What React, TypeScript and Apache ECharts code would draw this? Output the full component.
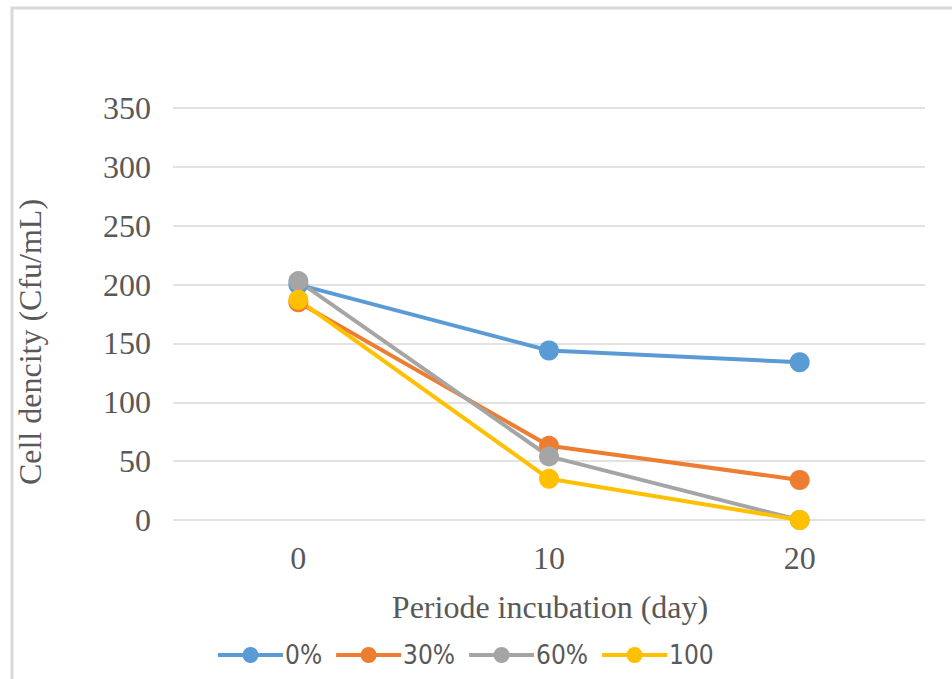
import React, { useEffect, useRef } from "react";
import * as echarts from "echarts";

const categories = ["0", "10", "20"];
const seriesNames = ["0%", "30%", "60%", "100"];
const s0 = [200, 144, 134];
const s30 = [185, 63, 34];
const s60 = [203, 54, 0];
const s100 = [187, 35, 0];
const colors = ["#5B9BD5", "#ED7D31", "#A5A5A5", "#FFC000"];
const yTicks = { min: 0, max: 350, interval: 50 };

const FONT = "'Liberation Serif', 'Times New Roman', serif";
const LEGEND_FONT = "'DejaVu Sans Condensed', 'Liberation Sans Narrow', sans-serif";
const TXT = "#595959";

export default function App() {
  const ref = useRef<HTMLDivElement>(null);
  useEffect(() => {
    document.body.style.margin = "0";
    const chart = echarts.init(ref.current!, null, { renderer: "svg" });
    const data = [s0, s30, s60, s100];
    chart.setOption({
      animation: false,
      backgroundColor: "#ffffff",
      textStyle: { fontFamily: FONT },
      grid: { left: 173, right: 27, top: 108, bottom: 159 },
      xAxis: {
        type: "category",
        data: categories,
        boundaryGap: true,
        axisLine: { show: false },
        axisTick: { show: false },
        axisLabel: { color: TXT, fontSize: 32, fontFamily: FONT, margin: 22 },
      },
      yAxis: {
        type: "value",
        min: yTicks.min,
        max: yTicks.max,
        interval: yTicks.interval,
        axisLine: { show: false },
        axisTick: { show: false },
        axisLabel: { color: TXT, fontSize: 32, fontFamily: FONT, margin: 22 },
        splitLine: { lineStyle: { color: "#D9D9D9", width: 1.5 } },
      },
      legend: {
        top: 637,
        left: 211,
        itemWidth: 65,
        itemHeight: 20,
        itemGap: 12,
        lineStyle: { width: 4 },
        textStyle: { color: TXT, fontSize: 26, fontFamily: LEGEND_FONT, padding: [0, 0, 0, -3] },
        data: seriesNames,
      },
      graphic: [
        {
          type: "rect",
          shape: { x: 12, y: 8, width: 2000, height: 2000 },
          style: { fill: "none", stroke: "#D9D9D9", lineWidth: 3 },
          silent: true,
        },
        {
          type: "text",
          x: 30,
          y: 342,
          rotation: Math.PI / 2,
          style: {
            text: "Cell dencity (Cfu/mL)",
            fill: TXT,
            font: `32px ${FONT}`,
            align: "center",
            verticalAlign: "middle",
          },
        },
        {
          type: "text",
          x: 550,
          y: 607,
          style: {
            text: "Periode incubation (day)",
            fill: TXT,
            font: `32px ${FONT}`,
            align: "center",
            verticalAlign: "middle",
          },
        },
      ],
      series: seriesNames.map((n, i) => ({
        name: n,
        type: "line",
        data: data[i],
        color: colors[i],
        symbol: "circle",
        symbolSize: 20,
        lineStyle: { width: 4, color: colors[i] },
        itemStyle: { color: colors[i] },
      })),
    });
    return () => chart.dispose();
  }, []);
  return <div ref={ref} style={{ width: 952, height: 679 }} />;
}
